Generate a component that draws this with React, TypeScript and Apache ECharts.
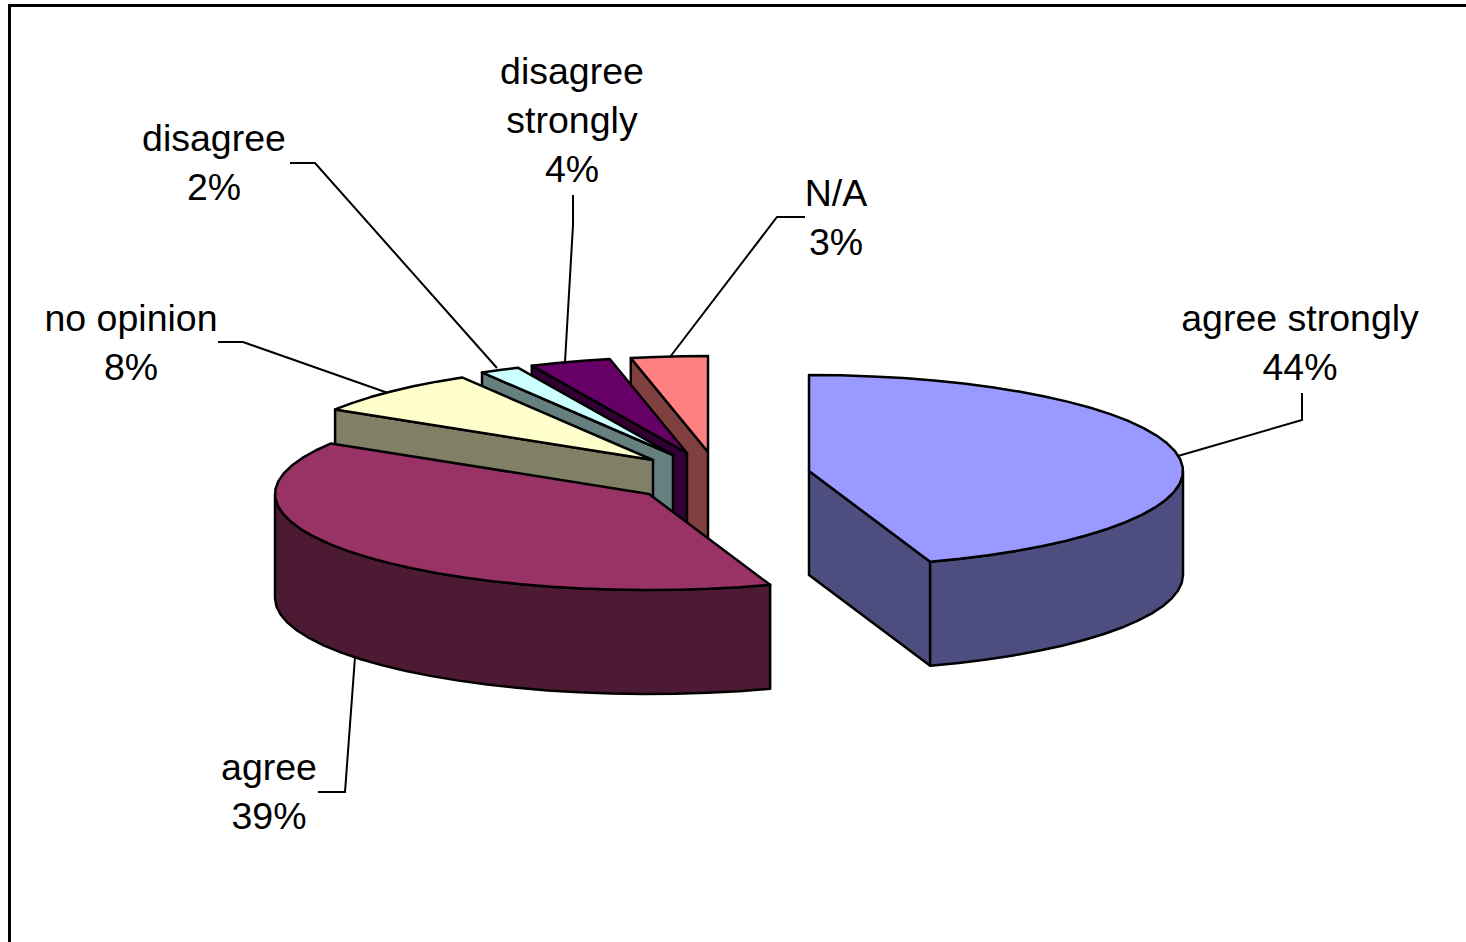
import React, { useEffect, useRef } from "react";
import * as echarts from "echarts";

// Data
const categories = ["agree strongly", "agree", "no opinion", "disagree", "disagree strongly", "N/A"];
// Share of the ellipse that each slice takes up in the drawing
const shares = [44.75, 39.08, 7.64, 1.72, 3.5, 3.31];
// Percentages printed in the labels
const percentLabels = [44, 39, 8, 2, 4, 3];

const topColors = ["#9999FF", "#993366", "#FFFFCC", "#CCFFFF", "#660066", "#FF8080"];
const sideColors = ["#4D4D80", "#4D1A33", "#808066", "#668080", "#330033", "#804040"];

// Exploded centre of every slice
const centers: number[][] = [
  [809, 471],
  [649, 494],
  [653, 460],
  [673, 455],
  [687, 453],
  [708, 452],
];
// Leader lines and label anchors
const leaders: number[][][] = [
  [[1178, 456], [1302, 420], [1302, 393]],
  [[355, 657], [345, 792], [318, 792]],
  [[388, 393], [243, 342], [218, 342]],
  [[497, 368], [315, 163], [290, 163]],
  [[565, 362], [573, 225], [573, 195]],
  [[670, 357], [777, 217], [805, 217]],
];
const labelAnchors: number[][] = [
  [1300, 342],
  [269, 791],
  [131, 342],
  [214, 162],
  [572, 120],
  [836, 217],
];

const RX = 374;
const RY = 96;
const DEPTH = 104;
const ARC_STEP = 5;
const FONT = '"Liberation Sans", Arial, sans-serif';
const FONT_SIZE = 37.5;
const LINE_H = 49;

const rad = (d: number) => (d * Math.PI) / 180;

function buildOption() {
  const total = shares.reduce((a, b) => a + b, 0);
  const starts: number[] = [];
  let acc = 0;
  shares.forEach((s) => {
    starts.push((acc / total) * 360);
    acc += s;
  });

  // Back slices are painted first
  const order = categories.map((_, i) => i).reverse();
  const data = order.map((i) => [i, shares[i]]);

  const renderItem = (_params: any, api: any) => {
    const i = api.value(0) as number;
    const share = api.value(1) as number;
    const t1 = starts[i];
    const t2 = t1 + (share / total) * 360;
    const [cx, cy] = centers[i];
    const pt = (t: number, dy = 0) => [cx + RX * Math.sin(rad(t)), cy - RY * Math.cos(rad(t)) + dy];
    const arc = (a: number, b: number, dy = 0) => {
      const out: number[][] = [];
      const n = Math.max(2, Math.ceil(Math.abs(b - a) / ARC_STEP));
      for (let k = 0; k <= n; k++) out.push(pt(a + ((b - a) * k) / n, dy));
      return out;
    };
    const solid = (fill: string) => ({ fill, stroke: "#000", lineWidth: 2.5, lineJoin: "round" });
    const children: any[] = [];

    const face = (t: number) => ({
      type: "polygon",
      shape: { points: [[cx, cy], pt(t), pt(t, DEPTH), [cx, cy + DEPTH]] },
      style: solid(sideColors[i]),
    });
    if (t1 > 180 && t1 < 360) children.push(face(t1));
    if (t2 > 0 && t2 < 180) children.push(face(t2));

    const w1 = Math.max(t1, 90);
    const w2 = Math.min(t2, 270);
    if (w2 > w1) {
      children.push({
        type: "polygon",
        shape: { points: [...arc(w1, w2), ...arc(w2, w1, DEPTH)] },
        style: solid(sideColors[i]),
      });
    }
    children.push({
      type: "polygon",
      shape: { points: [[cx, cy], ...arc(t1, t2)] },
      style: solid(topColors[i]),
    });
    children.push({
      type: "polyline",
      shape: { points: leaders[i] },
      style: { fill: "none", stroke: "#000", lineWidth: 2 },
    });
    const name = categories[i] === "disagree strongly" ? "disagree\nstrongly" : categories[i];
    children.push({
      type: "text",
      x: labelAnchors[i][0],
      y: labelAnchors[i][1],
      style: {
        text: `${name}\n${percentLabels[i]}%`,
        fontFamily: FONT,
        fontSize: FONT_SIZE,
        lineHeight: LINE_H,
        fill: "#000",
        align: "center",
        verticalAlign: "middle",
      },
    });
    return { type: "group", children };
  };

  return {
    animation: false,
    backgroundColor: "#fff",
    graphic: [
      {
        type: "polyline",
        shape: { points: [[9.5, 942], [9.5, 5.5], [1466, 5.5]] },
        style: { fill: "none", stroke: "#000", lineWidth: 3 },
      },
    ],
    series: [
      {
        type: "custom",
        coordinateSystem: "none",
        data,
        renderItem,
      },
    ],
  };
}

export default function App() {
  const ref = useRef<HTMLDivElement>(null);
  useEffect(() => {
    document.body.style.margin = "0";
    document.body.style.overflow = "hidden";
    const chart = echarts.init(ref.current!, undefined, { renderer: "svg" });
    chart.setOption(buildOption() as any);
    return () => chart.dispose();
  }, []);
  return <div ref={ref} style={{ width: 1466, height: 942 }} />;
}
